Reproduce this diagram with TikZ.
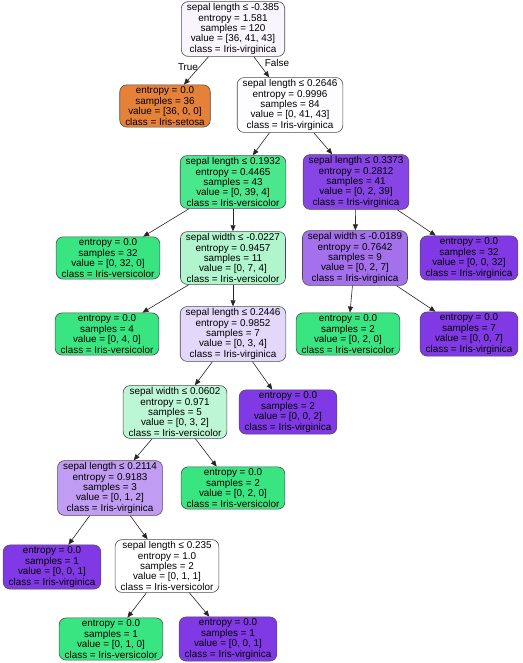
\documentclass[tikz,border=0pt]{standalone}
\usepackage{fontspec}
\setmainfont{Liberation Sans}
\usetikzlibrary{arrows.meta}
\definecolor{cOr}{HTML}{E58139}
\definecolor{cGr}{HTML}{39E581}
\definecolor{cPu}{HTML}{8139E5}
\definecolor{cRoot}{HTML}{F9F5FE}
\definecolor{cR1}{HTML}{FDFCFF}
\definecolor{cG1}{HTML}{4BE78D}
\definecolor{cP1}{HTML}{8845E6}
\definecolor{cG2}{HTML}{B0F5CD}
\definecolor{cP2}{HTML}{A470EC}
\definecolor{cP3}{HTML}{E3D7FA}
\definecolor{cG3}{HTML}{BDF6D5}
\definecolor{cP4}{HTML}{C09CF2}
\tikzset{
  tn/.style={draw=black!70, line width=0.6pt, rounded corners=7pt, align=center,
    font=\fontsize{9.9}{10.4}\selectfont, inner xsep=5.5pt, inner ysep=2pt, text=black},
  edge/.style={draw=black!85, line width=0.6pt, -{Triangle[length=6pt,width=5pt]}},
  elab/.style={font=\fontsize{9.9}{10.4}\selectfont, inner sep=0pt}
}
\begin{document}
\begin{tikzpicture}[x=1pt,y=-1pt]
\useasboundingbox (0,0) rectangle (522,663);
\node[tn, fill=cRoot] (n0) at (233,29) {sepal length ≤ -0.385\\entropy = 1.581\\samples = 120\\value = [36, 41, 43]\\class = Iris-virginica};
\node[tn, fill=cOr] (n1) at (165,106) {entropy = 0.0\\samples = 36\\value = [36, 0, 0]\\class = Iris-setosa};
\node[tn, fill=cR1] (n2) at (290,105) {sepal length ≤ 0.2646\\entropy = 0.9996\\samples = 84\\value = [0, 41, 43]\\class = Iris-virginica};
\node[tn, fill=cG1] (n3) at (233,182) {sepal length ≤ 0.1932\\entropy = 0.4465\\samples = 43\\value = [0, 39, 4]\\class = Iris-versicolor};
\node[tn, fill=cP1] (n4) at (356,182) {sepal length ≤ 0.3373\\entropy = 0.2812\\samples = 41\\value = [0, 2, 39]\\class = Iris-virginica};
\node[tn, fill=cGr] (n5) at (108,258) {entropy = 0.0\\samples = 32\\value = [0, 32, 0]\\class = Iris-versicolor};
\node[tn, fill=cG2] (n6) at (233,258) {sepal width ≤ -0.0227\\entropy = 0.9457\\samples = 11\\value = [0, 7, 4]\\class = Iris-versicolor};
\node[tn, fill=cP2] (n7) at (355,258) {sepal width ≤ -0.0189\\entropy = 0.7642\\samples = 9\\value = [0, 2, 7]\\class = Iris-virginica};
\node[tn, fill=cPu] (n8) at (469,258) {entropy = 0.0\\samples = 32\\value = [0, 0, 32]\\class = Iris-virginica};
\node[tn, fill=cGr] (n9) at (107,334) {entropy = 0.0\\samples = 4\\value = [0, 4, 0]\\class = Iris-versicolor};
\node[tn, fill=cP3] (n10) at (233,334) {sepal length ≤ 0.2446\\entropy = 0.9852\\samples = 7\\value = [0, 3, 4]\\class = Iris-virginica};
\node[tn, fill=cGr] (n11) at (348,334) {entropy = 0.0\\samples = 2\\value = [0, 2, 0]\\class = Iris-versicolor};
\node[tn, fill=cPu] (n12) at (469,334) {entropy = 0.0\\samples = 7\\value = [0, 0, 7]\\class = Iris-virginica};
\node[tn, fill=cG3] (n13) at (175,412) {sepal width ≤ 0.0602\\entropy = 0.971\\samples = 5\\value = [0, 3, 2]\\class = Iris-versicolor};
\node[tn, fill=cPu] (n14) at (288,412) {entropy = 0.0\\samples = 2\\value = [0, 0, 2]\\class = Iris-virginica};
\node[tn, fill=cP4] (n15) at (110,488) {sepal length ≤ 0.2114\\entropy = 0.9183\\samples = 3\\value = [0, 1, 2]\\class = Iris-virginica};
\node[tn, fill=cGr] (n16) at (233,488) {entropy = 0.0\\samples = 2\\value = [0, 2, 0]\\class = Iris-versicolor};
\node[tn, fill=cPu] (n17) at (52,567) {entropy = 0.0\\samples = 1\\value = [0, 0, 1]\\class = Iris-virginica};
\node[tn, fill=white] (n18) at (167,566) {sepal length ≤ 0.235\\entropy = 1.0\\samples = 2\\value = [0, 1, 1]\\class = Iris-versicolor};
\node[tn, fill=cGr] (n19) at (111,639) {entropy = 0.0\\samples = 1\\value = [0, 1, 0]\\class = Iris-versicolor};
\node[tn, fill=cPu] (n20) at (228,639) {entropy = 0.0\\samples = 1\\value = [0, 0, 1]\\class = Iris-virginica};
\foreach \a/\b in {n0/n1,n0/n2,n2/n3,n2/n4,n3/n5,n3/n6,n4/n7,n4/n8,n6/n9,n6/n10,n7/n11,n7/n12,n10/n13,n10/n14,n13/n15,n13/n16,n15/n17,n15/n18,n18/n19,n18/n20}
  \draw[edge] (\a) -- (\b);
\node[elab] (lt) at (188,67) {True};
\node[elab] (lf) at (277,63) {False};
\end{tikzpicture}
\end{document}
